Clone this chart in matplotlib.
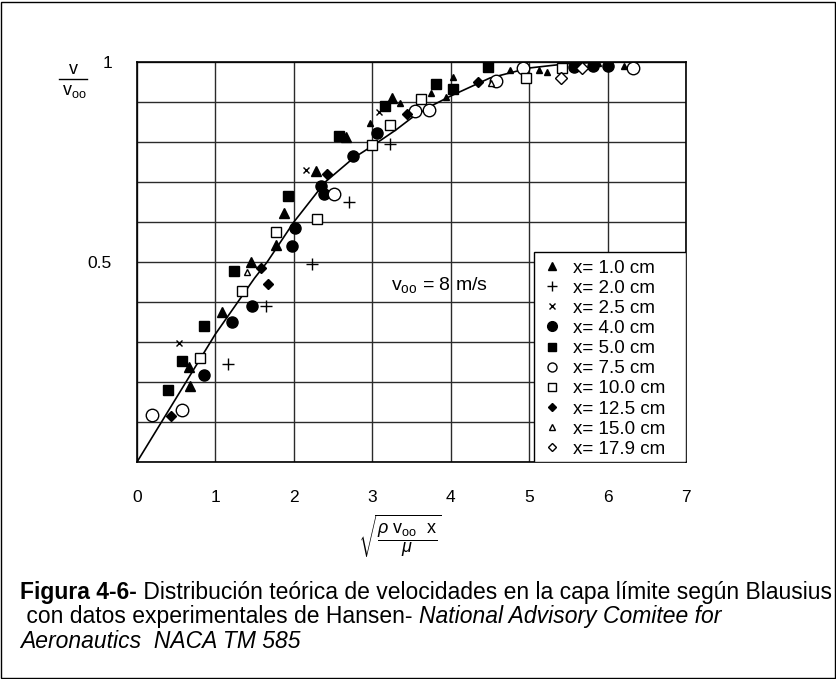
import matplotlib
matplotlib.use("Agg")
import matplotlib.pyplot as plt
from matplotlib.lines import Line2D
from matplotlib.patches import Rectangle

# ── Data ─────────────────────────────────────────────────────────────────────
curve_x = [0, 0.5, 1.0, 1.5, 1.66, 2.0, 2.4, 2.76, 3.0, 3.3, 3.5, 3.75, 4.0, 4.5, 5.0, 5.5, 6.0, 6.5]
curve_y = [0, 0.16, 0.32, 0.46, 0.50, 0.60, 0.70, 0.76, 0.79, 0.83, 0.86, 0.89, 0.915, 0.96, 0.985, 0.996, 1.0, 1.0]

x10_x = [0.67, 0.667, 1.09, 1.45, 1.77, 1.875, 2.28, 2.67, 3.25]
x10_y = [0.19, 0.238, 0.376, 0.50, 0.5425, 0.623, 0.728, 0.812, 0.909]
x10_small_x = [2.97, 3.355, 3.75, 3.94, 4.035, 4.76, 5.13, 5.23, 5.88, 6.21]
x10_small_y = [0.848, 0.897, 0.923, 0.913, 0.963, 0.98, 0.98, 0.974, 0.997, 0.991]

x20_x = [1.157, 1.65, 2.23, 2.70, 3.22]
x20_y = [0.244, 0.391, 0.495, 0.651, 0.794]

x25_x = [0.53, 2.155, 3.09]
x25_y = [0.297, 0.73, 0.876]

x40_x = [0.855, 1.215, 1.47, 1.98, 2.02, 2.35, 2.38, 2.76, 3.06, 5.57, 5.81, 6.0]
x40_y = [0.2175, 0.349, 0.391, 0.54, 0.584, 0.69, 0.669, 0.765, 0.823, 0.988, 0.99, 0.99]

x50_x = [0.39, 0.57, 0.855, 1.24, 1.93, 2.58, 3.16, 3.81, 4.035, 4.47]
x50_y = [0.18, 0.253, 0.341, 0.4775, 0.666, 0.815, 0.89, 0.944, 0.932, 0.987]

x75_x = [0.195, 0.58, 2.51, 3.55, 3.72, 4.58, 4.92, 6.32]
x75_y = [0.1175, 0.13, 0.669, 0.878, 0.88, 0.9525, 0.984, 0.986]

x100_x = [0.80, 1.34, 1.77, 2.30, 2.99, 3.22, 3.62, 4.96, 5.425]
x100_y = [0.26, 0.428, 0.576, 0.607, 0.7925, 0.8425, 0.9075, 0.959, 0.986]

x125_x = [0.43, 1.58, 1.667, 2.42, 3.44, 4.35]
x125_y = [0.115, 0.484, 0.445, 0.719, 0.87, 0.951]

x150_x = [1.40, 4.52]
x150_y = [0.474, 0.947]

x179_x = [5.40, 5.67]
x179_y = [0.961, 0.986]

legend_labels = ["x= 1.0 cm", "x= 2.0 cm", "x= 2.5 cm", "x= 4.0 cm", "x= 5.0 cm",
                 "x= 7.5 cm", "x= 10.0 cm", "x= 12.5 cm", "x= 15.0 cm", "x= 17.9 cm"]

# ── Style ────────────────────────────────────────────────────────────────────
plt.rcParams.update({
    "font.family": ["Liberation Sans", "DejaVu Sans"],
    "mathtext.fontset": "custom",
    "mathtext.rm": "Liberation Sans",
    "mathtext.it": "Liberation Sans:italic",
    "mathtext.bf": "Liberation Sans:bold",
})

W, H = 837, 679
fig = plt.figure(figsize=(W / 100, H / 100), dpi=100)
fig.patch.set_facecolor("white")
ax = fig.add_axes([137 / W, 1 - 462 / H, 549 / W, 400 / H])

ax.set_xlim(0, 7)
ax.set_ylim(0, 1)
ax.set_xticks(range(8))
ax.set_yticks([i / 10 for i in range(11)])
ax.set_yticklabels(["" if i not in (5, 10) else ("0.5" if i == 5 else "1") for i in range(11)])
ax.tick_params(length=0, labelsize=12.5, colors="black")
ax.tick_params(axis="x", pad=20)
ax.tick_params(axis="y", pad=18)
ax.grid(True, color="#2a2a2a", linewidth=1.0)
ax.set_axisbelow(True)
for sp in ax.spines.values():
    sp.set_linewidth(1.2)
    sp.set_color("black")

# ── Curve and points ─────────────────────────────────────────────────────────
ax.plot(curve_x, curve_y, color="black", lw=1.2, zorder=3)

K = "black"
series = [
    (x10_x, x10_y, dict(marker="^", ms=7, mfc=K, mec=K)),
    (x20_x, x20_y, dict(marker="+", ms=9, mec=K, mew=1.0)),
    (x25_x, x25_y, dict(marker="x", ms=5, mec=K, mew=1.0)),
    (x40_x, x40_y, dict(marker="o", ms=8, mfc=K, mec=K)),
    (x50_x, x50_y, dict(marker="s", ms=7, mfc=K, mec=K)),
    (x75_x, x75_y, dict(marker="o", ms=9, mfc="white", mec=K, mew=1.0)),
    (x100_x, x100_y, dict(marker="s", ms=7.5, mfc="white", mec=K, mew=1.0)),
    (x125_x, x125_y, dict(marker="D", ms=5, mfc=K, mec=K)),
    (x150_x, x150_y, dict(marker="^", ms=5, mfc="white", mec=K, mew=1.0)),
    (x179_x, x179_y, dict(marker="D", ms=6, mfc="white", mec=K, mew=1.0)),
]
for xs, ys, st in series:
    ax.plot(xs, ys, ls="none", zorder=4, **st)
ax.plot(x10_small_x, x10_small_y, ls="none", marker="^", ms=4.5, mfc=K, mec=K, zorder=4)

# ── Legend (white box in the lower right corner) ─────────────────────────────
box_x0 = (534 - 137) / 549
box_y1 = (462 - 252) / 400
ax.add_patch(Rectangle((box_x0, 0), 1 - box_x0, box_y1, transform=ax.transAxes,
                       facecolor="white", edgecolor="black", lw=1.0, zorder=5))

leg_styles = [
    dict(marker="^", ms=5.5, mfc=K, mec=K),
    dict(marker="+", ms=7, mec=K, mew=1.0),
    dict(marker="x", ms=4.5, mec=K, mew=1.0),
    dict(marker="o", ms=7, mfc=K, mec=K),
    dict(marker="s", ms=5.5, mfc=K, mec=K),
    dict(marker="o", ms=6.5, mfc="white", mec=K, mew=1.0),
    dict(marker="s", ms=6, mfc="white", mec=K, mew=1.0),
    dict(marker="D", ms=4.5, mfc=K, mec=K),
    dict(marker="^", ms=5, mfc="white", mec=K, mew=1.0),
    dict(marker="D", ms=4.5, mfc="white", mec=K, mew=1.0),
]
handles = [Line2D([], [], ls="none", **st) for st in leg_styles]
leg = ax.legend(handles, legend_labels, loc="upper left", bbox_to_anchor=(box_x0, box_y1),
                borderaxespad=0, fontsize=13.5, frameon=False, labelspacing=0.16,
                handletextpad=0.58, handlelength=1.1, borderpad=0.4)
leg.set_zorder(6)

ax.text(3.86, 0.4425, r"$\mathrm{v_{oo}}$ = 8 m/s", fontsize=14, ha="center", va="center")

# ── Axis labels ──────────────────────────────────────────────────────────────
fig.text(73 / W, 1 - 69 / H, "v", fontsize=13, ha="center", va="center")
fig.add_artist(Line2D([59 / W, 87 / W], [1 - 79 / H, 1 - 79 / H], color="black", lw=1.0))
fig.text(74 / W, 1 - 91 / H, r"$\mathrm{v_{oo}}$", fontsize=13, ha="center", va="center")

fig.text(400 / W, 1 - 536 / H, r"$\sqrt{\dfrac{\rho\ \mathrm{v_{oo}}\ \ \mathrm{x}}{\mu}}$",
         fontsize=13, ha="center", va="center")

# ── Caption ──────────────────────────────────────────────────────────────────
cap_family = ["Liberation Sans", "DejaVu Sans"]
renderer = fig.canvas.get_renderer()


def draw_runs(x, y, runs):
    for txt, weight, style in runs:
        t = fig.text(x, y, txt, fontsize=16.5, family=cap_family,
                     weight=weight, style=style, va="center", ha="left")
        bb = t.get_window_extent(renderer)
        x = bb.x1 / fig.bbox.width


draw_runs(20 / W, 1 - 593 / H, [
    ("Figura 4-6-", "bold", "normal"),
    (" Distribución teórica de velocidades en la capa límite según Blausius", "normal", "normal"),
])
draw_runs(20 / W, 1 - 617 / H, [
    (" con datos experimentales de Hansen- ", "normal", "normal"),
    ("National Advisory Comitee for", "normal", "italic"),
])
draw_runs(20 / W, 1 - 642 / H, [
    ("Aeronautics  NACA TM 585", "normal", "italic"),
])

# outer frame
fig.add_artist(Rectangle((1.5 / W, 1.5 / H), 1 - 3 / W, 1 - 3 / H, transform=fig.transFigure,
                         fill=False, edgecolor="black", lw=1.0))

fig.savefig("out.png", dpi=100)
